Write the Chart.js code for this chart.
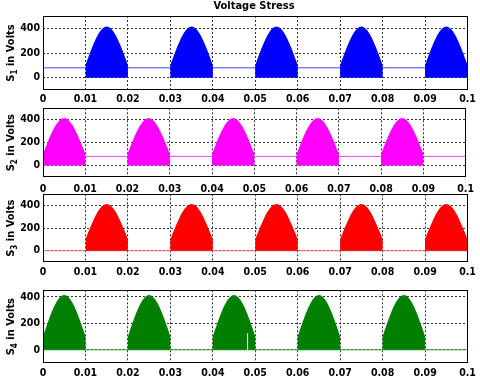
<!DOCTYPE html>
<html>
<head>
<meta charset="utf-8">
<script src="https://cdn.jsdelivr.net/npm/chart.js@4.4.0/dist/chart.umd.min.js"></script>
<style>
  body { margin: 0; background: #fff; }
  #wrap { position: relative; width: 480px; height: 381px; overflow: hidden; background: #fff; }
  #wrap canvas { position: absolute; left: 0; }
</style>
</head>
<body>
<div id="wrap">
  <canvas id="c1"></canvas>
  <canvas id="c2"></canvas>
  <canvas id="c3"></canvas>
  <canvas id="c4"></canvas>
</div>
<script>
// Datos (tiempo en s, tensión en V)
const xTicks = [0, 0.01, 0.02, 0.03, 0.04, 0.05, 0.06, 0.07, 0.08, 0.09, 0.1];
const xTickLabels = ['0', '0.01', '0.02', '0.03', '0.04', '0.05', '0.06', '0.07', '0.08', '0.09', '0.1'];
const yTicks = [0, 200, 400];

// Envolvente de cada semiciclo de conmutación (desplazamiento dentro del pulso, tensión)
const humpOffsets = [0, 0.0005, 0.001, 0.0015, 0.002, 0.0025, 0.003, 0.0035, 0.004, 0.0045, 0.005,
                     0.0055, 0.006, 0.0065, 0.007, 0.0075, 0.008, 0.0085, 0.009, 0.0095, 0.01];
const humpEnvelope = [100, 150, 195, 240, 282, 320, 352, 378, 398, 410, 415,
                      410, 398, 378, 352, 320, 282, 240, 195, 150, 100];

// Inicio de cada pulso
const startsS1 = [0.01, 0.03, 0.05, 0.07, 0.09];
const startsS2 = [0, 0.02, 0.04, 0.06, 0.08];
const startsS3 = [0.01, 0.03, 0.05, 0.07, 0.09];
const startsS4 = [0, 0.02, 0.04, 0.06, 0.08];

// Tensión en estado de bloqueo (tiempo, valor)
const offS1T = [0, 0.09];   const offS1V = [80, 80];
const offS2T = [0.01, 0.1]; const offS2V = [80, 80];
const offS3T = [0, 0, 0.1]; const offS3V = [80, 0, 0];
const offS4T = [0, 0.1];    const offS4V = [0, 0];

// Hueco blanco dentro del tercer pulso de S4
const gapS4T = [0.0482, 0.0482]; const gapS4V = [0, 125];

const FONT = "'Liberation Sans Narrow', 'DejaVu Sans Condensed', 'Liberation Sans', Arial, sans-serif";

function humpPoints(starts) {
  const pts = [];
  starts.forEach(t0 => {
    pts.push({ x: t0, y: 0 });
    humpOffsets.forEach((dt, i) => pts.push({ x: t0 + dt, y: humpEnvelope[i] }));
    pts.push({ x: t0 + 0.01, y: 0 });
  });
  return pts;
}

function toPoints(ts, vs) {
  return ts.map((t, i) => ({ x: t, y: vs[i] }));
}

// Caja negra alrededor del área y etiqueta del eje Y con subíndice
const framePlugin = {
  id: 'frame',
  afterDraw(chart) {
    const { ctx, chartArea } = chart;
    const o = chart.options.plugins.frame;
    ctx.save();
    ctx.strokeStyle = '#000';
    ctx.lineWidth = 1;
    ctx.strokeRect(Math.round(chartArea.left) + 0.5, Math.round(chartArea.top) + 0.5,
                   Math.round(chartArea.right - chartArea.left) - 1, Math.round(chartArea.bottom - chartArea.top) - 1);

    // etiqueta "S_n in Volts"
    const cy = (chartArea.top + chartArea.bottom) / 2;
    ctx.translate(11, cy);
    ctx.rotate(-Math.PI / 2);
    ctx.fillStyle = '#000';
    ctx.textBaseline = 'middle';
    const big = 'bold 11px ' + FONT;
    const small = 'bold 8px ' + FONT;
    ctx.font = big;
    const wS = ctx.measureText('S').width;
    const wRest = ctx.measureText(' in Volts').width;
    ctx.font = small;
    const wSub = ctx.measureText(o.sub).width;
    let x = -(wS + wSub + wRest) / 2;
    ctx.font = big;
    ctx.fillText('S', x, 0);
    ctx.font = small;
    ctx.fillText(o.sub, x + wS, 4);
    ctx.font = big;
    ctx.fillText(' in Volts', x + wS + wSub, 0);
    ctx.restore();

    if (o.title) {
      ctx.save();
      ctx.font = 'bold 11px ' + FONT;
      ctx.fillStyle = '#000';
      ctx.textAlign = 'center';
      ctx.textBaseline = 'middle';
      ctx.fillText(o.title, 254, 6);
      ctx.restore();
    }
  }
};

const panels = [
  { id: 'c1', top: 0,   padTop: 16, plotH: 74, yMin: -100, yMax: 500, sub: '1', title: 'Voltage Stress',
    fill: '#0000ff', line: '#4444ff', starts: startsS1, offT: offS1T, offV: offS1V, labelPad: 3 },
  { id: 'c2', top: 99,  padTop: 6,  plotH: 72, yMin: -100, yMax: 500, sub: '2',
    fill: '#ff00ff', line: '#ff44ff', starts: startsS2, offT: offS2T, offV: offS2V, labelPad: 6 },
  { id: 'c3', top: 185, padTop: 6,  plotH: 71, yMin: -100, yMax: 500, sub: '3',
    fill: '#ff0000', line: '#ff6666', starts: startsS3, offT: offS3T, offV: offS3V, labelPad: 4 },
  { id: 'c4', top: 281, padTop: 6,  plotH: 76, yMin: -100, yMax: 450, sub: '4',
    fill: '#007f00', line: '#30a030', starts: startsS4, offT: offS4T, offV: offS4V, labelPad: 4,
    gapT: gapS4T, gapV: gapS4V }
];

const X_AXIS_H = 16;
const Y_AXIS_W = 43;
const RIGHT = 467.5;

panels.forEach(p => {
  const canvas = document.getElementById(p.id);
  canvas.width = 480;
  canvas.height = p.padTop + p.plotH + X_AXIS_H;
  canvas.style.top = p.top + 'px';

  const datasets = [];
  if (p.gapT) {
    datasets.push({ data: toPoints(p.gapT, p.gapV), borderColor: '#ffffff', borderWidth: 1,
                    pointRadius: 0, fill: false });
  }
  datasets.push({ data: humpPoints(p.starts), borderColor: 'rgba(0,0,0,0)', backgroundColor: p.fill,
                  borderWidth: 1, pointRadius: 0, fill: 'origin', tension: 0 });
  datasets.push({ data: toPoints(p.offT, p.offV), borderColor: p.line, borderWidth: 1,
                  pointRadius: 0, fill: false, tension: 0 });

  new Chart(canvas, {
    type: 'line',
    data: { datasets },
    options: {
      responsive: false,
      animation: false,
      events: [],
      layout: { padding: { top: p.padTop, left: 0, right: 480 - RIGHT, bottom: 0 } },
      plugins: {
        legend: { display: false },
        tooltip: { enabled: false },
        frame: { sub: p.sub, title: p.title }
      },
      scales: {
        x: {
          type: 'linear', min: 0, max: 0.1,
          afterBuildTicks: axis => { axis.ticks = xTicks.map(v => ({ value: v })); },
          afterFit: axis => { axis.height = X_AXIS_H; },
          ticks: {
            autoSkip: false, maxRotation: 0, padding: p.labelPad, color: '#000',
            font: { family: FONT, size: 10.5, weight: 'bold' },
            callback: (v, i) => xTickLabels[i]
          },
          grid: { color: '#333', drawTicks: false, lineWidth: 1 },
          border: { display: false, dash: [2, 2] }
        },
        y: {
          type: 'linear', min: p.yMin, max: p.yMax,
          afterBuildTicks: axis => { axis.ticks = yTicks.map(v => ({ value: v })); },
          afterFit: axis => { axis.width = Y_AXIS_W; },
          ticks: {
            padding: 3, color: '#000',
            font: { family: FONT, size: 10.5, weight: 'bold' },
            callback: v => String(v)
          },
          grid: { color: '#333', drawTicks: false, lineWidth: 1 },
          border: { display: false, dash: [2, 2] }
        }
      }
    },
    plugins: [framePlugin]
  });
});
</script>
</body>
</html>
